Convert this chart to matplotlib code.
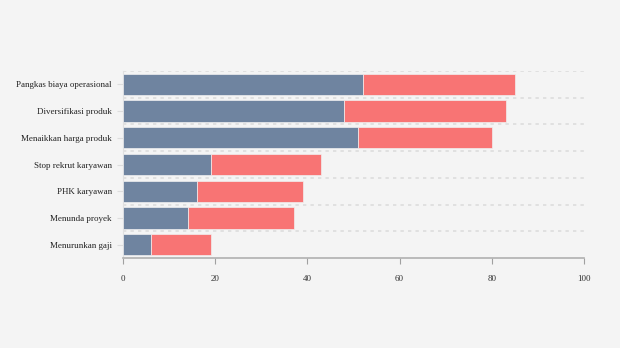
import matplotlib.pyplot as plt

# data, bottom to top
categories = ["Menurunkan gaji", "Menunda proyek", "PHK karyawan", "Stop rekrut karyawan",
              "Menaikkan harga produk", "Diversifikasi produk", "Pangkas biaya operasional"]
series_a = [6, 14, 16, 19, 51, 48, 52]
series_b = [13, 23, 23, 24, 29, 35, 33]
xticks = [0, 20, 40, 60, 80, 100]

bg = "#f4f4f4"
plt.rcParams["font.family"] = ["Liberation Serif", "DejaVu Serif"]

fig = plt.figure(figsize=(6.2, 3.48), dpi=100, facecolor=bg)
ax = fig.add_axes([123 / 620, 1 - 258 / 348, (584 - 123) / 620, (258 - 71) / 348])
ax.set_facecolor(bg)

y = list(range(len(categories)))
ax.barh(y, series_a, height=0.8, color="#6f84a0", edgecolor="#f0f0f0", linewidth=0.5, zorder=3)
ax.barh(y, series_b, left=series_a, height=0.8, color="#f87474", edgecolor="#f0f0f0",
        linewidth=0.5, zorder=3)

ax.set_xlim(0, 100)
ax.set_ylim(-0.5, len(categories) - 0.5)
ax.set_yticks(y)
ax.set_yticklabels(categories, fontsize=6.5, color="#222222")
ax.set_xticks(xticks)
ax.set_xticklabels([str(v) for v in xticks], fontsize=6.5, color="#333333")

# dashed separators between categories
for b in [i + 0.5 for i in range(len(categories))]:
    ax.axhline(b, color="#dcdcdc", linewidth=1.2, linestyle=(0, (2, 2.5)), zorder=1)

for s in ["top", "right"]:
    ax.spines[s].set_visible(False)
ax.spines["left"].set_color("#e0e0e0")
ax.spines["left"].set_linewidth(0.8)
ax.spines["bottom"].set_color("#b0b0b0")
ax.spines["bottom"].set_linewidth(1.2)
ax.spines["bottom"].set_linestyle((0, (2, 1)))
ax.tick_params(axis="y", length=4, color="#dddddd", pad=4)
ax.tick_params(axis="x", length=4, color="#a0a0a0", pad=8)

fig.savefig("out.png", dpi=100, facecolor=bg)
